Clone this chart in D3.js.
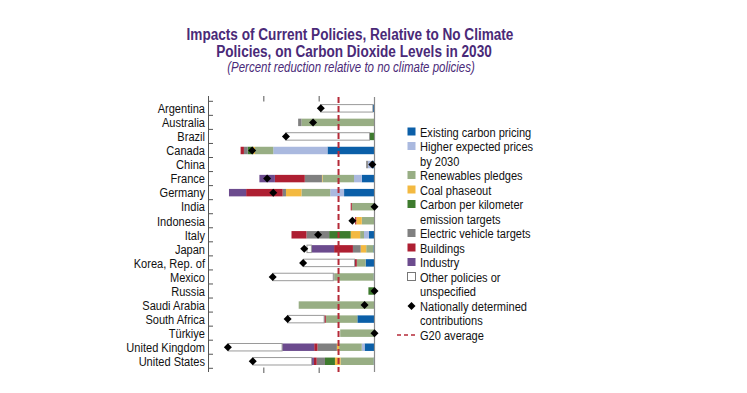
<!DOCTYPE html>
<html>
<head>
<meta charset="utf-8">
<script src="https://cdn.jsdelivr.net/npm/d3@7"></script>
<style>
  body { margin: 0; background: #fff; }
  svg { font-family: "Liberation Sans", Arial, sans-serif; }
</style>
</head>
<body>
<script>
// countries, top to bottom
var countries = ["Argentina", "Australia", "Brazil", "Canada", "China", "France", "Germany", "India",
  "Indonesia", "Italy", "Japan", "Korea, Rep. of", "Mexico", "Russia", "Saudi Arabia", "South Africa",
  "Türkiye", "United Kingdom", "United States"];

// percent reduction by policy, stacked from zero outward
var carbonPricing = [0.3, 0, 0, 8.5, 0.4, 2.3, 5.5, 0, 0, 1.0, 0.2, 1.6, 0.15, 0, 0, 3.1, 0, 1.8, 0.15];
var higherPrices  = [0, 0, 0, 9.8, 0.8, 1.4, 2.5, 0, 0, 0.9, 0, 0, 0, 0, 0, 0, 0, 0.5, 0];
var renewables    = [0, 13.2, 0, 3.3, 0, 5.7, 5.2, 4.1, 2.3, 0.7, 1.3, 1.6, 7.1, 0, 13.7, 5.7, 6.2, 4.1, 6.0];
var coal          = [0, 0, 0, 0.3, 0, 0.1, 2.8, 0, 1.0, 1.7, 1.0, 0, 0, 0, 0, 0, 0, 0.4, 1.0];
var carbonPerKm   = [0, 0, 0.9, 1.0, 0, 0, 0, 0, 0, 3.9, 0, 0, 0, 1.1, 0, 0, 0, 0, 1.8];
var evTargets     = [0, 0.6, 0, 0.7, 0.3, 3.1, 0.6, 0, 0, 4.1, 1.4, 0, 0.2, 0, 0, 0, 0, 3.5, 1.5];
var buildings     = [0, 0, 0, 0.6, 0, 5.4, 6.6, 0.2, 0.2, 2.7, 3.4, 0.4, 0, 0, 0, 0.3, 0, 0.6, 0.5];
var industry      = [0, 0, 0, 0, 0, 2.8, 3.1, 0, 0, 0, 4.1, 0, 0, 0, 0, 0, 0, 5.8, 0.4];
var other         = [9.4, 0, 15.1, 0, 0, 0, 0, 0, 0, 0, 0.8, 9.2, 10.9, 0, 0, 6.6, 0, 9.7, 10.6];
var ndc           = [9.7, 11.1, 16.0, 22.1, 0.4, 19.4, 18.3, 0, 4.0, 10.2, 12.7, 12.9, 18.4, 0, 1.8, 15.7, 0, 26.5, 22.0];
var g20Average = 6.5;

var xTicks = [-20, -10];

var series = [
  {key: "carbonPricing", values: carbonPricing, label: ["Existing carbon pricing"], color: "#0b5fa8"},
  {key: "higherPrices", values: higherPrices, label: ["Higher expected prices", "by 2030"], color: "#aab9df"},
  {key: "renewables", values: renewables, label: ["Renewables pledges"], color: "#98ae84"},
  {key: "coal", values: coal, label: ["Coal phaseout"], color: "#f3b941"},
  {key: "carbonPerKm", values: carbonPerKm, label: ["Carbon per kilometer", "emission targets"], color: "#3e7b2e"},
  {key: "evTargets", values: evTargets, label: ["Electric vehicle targets"], color: "#808080"},
  {key: "buildings", values: buildings, label: ["Buildings"], color: "#ae1f32"},
  {key: "industry", values: industry, label: ["Industry"], color: "#6c4b8e"},
  {key: "other", values: other, label: ["Other policies or", "unspecified"], color: "#ffffff"}
];

var rows = countries.map(function(c, i) {
  var r = {country: c, ndc: ndc[i]};
  series.forEach(function(s) { r[s.key] = s.values[i]; });
  return r;
});

var width = 747, height = 393;
var purple = "#4a2a78";
var narrow = 0.82; // squeeze Liberation Sans to look like a narrow face

var svg = d3.select("body").append("svg")
    .attr("width", width)
    .attr("height", height);

function addText(g, tx, ty, str, sx) {
  return g.append("text")
    .attr("transform", "translate(" + tx + "," + ty + ") scale(" + (sx || narrow) + ",1)")
    .text(str);
}

// title
var title = svg.append("g").attr("text-anchor", "middle").attr("fill", purple);
addText(title, 350, 40, "Impacts of Current Policies, Relative to No Climate", 0.8)
  .attr("font-size", 17).attr("font-weight", "bold");
addText(title, 354, 56.5, "Policies, on Carbon Dioxide Levels in 2030", 0.8)
  .attr("font-size", 17).attr("font-weight", "bold");
addText(title, 351, 72, "(Percent reduction relative to no climate policies)")
  .attr("font-size", 14).attr("font-style", "italic");

var x = d3.scaleLinear().domain([-30, 0]).range([208.5, 374.5]);
var y = d3.scaleBand().domain(countries).range([101.3, 368.3]).paddingInner(0.47).paddingOuter(0.235);

var stack = d3.stack().keys(series.map(function(s) { return s.key; }));
var stacked = stack(rows);

// bars
svg.append("g").selectAll("g")
  .data(stacked)
  .enter().append("g")
  .attr("fill", function(d, i) { return series[i].color; })
  .attr("stroke", function(d, i) { return series[i].key === "other" ? "#9a9a9a" : "none"; })
  .attr("stroke-width", 1)
  .selectAll("rect")
  .data(function(d) { return d; })
  .enter().append("rect")
  .filter(function(d) { return d[1] - d[0] > 0; })
  .attr("x", function(d) { return x(-d[1]); })
  .attr("width", function(d) { return x(-d[0]) - x(-d[1]); })
  .attr("y", function(d) { return y(d.data.country); })
  .attr("height", y.bandwidth());

// zero line
svg.append("line")
  .attr("x1", x(0)).attr("x2", x(0))
  .attr("y1", 97).attr("y2", 372)
  .attr("stroke", "#8a8a8a").attr("stroke-width", 1.2);

// G20 average
svg.append("line")
  .attr("x1", x(-g20Average)).attr("x2", x(-g20Average))
  .attr("y1", 97).attr("y2", 372)
  .attr("stroke", "#b52a38").attr("stroke-width", 2)
  .attr("stroke-dasharray", "6,3");

// NDC diamonds
svg.append("g").selectAll("path")
  .data(rows)
  .enter().append("path")
  .attr("d", d3.symbol().type(d3.symbolSquare).size(32))
  .attr("transform", function(d) {
    return "translate(" + x(-d.ndc) + "," + (y(d.country) + y.bandwidth() / 2) + ") rotate(45)";
  })
  .attr("fill", "#000");

// left axis with ticks between categories
var axis = svg.append("g").attr("stroke", "#555").attr("stroke-width", 1);
axis.append("line").attr("x1", 208.5).attr("x2", 208.5).attr("y1", 96).attr("y2", 372);
var bounds = d3.range(countries.length + 1).map(function(i) { return 101.3 + i * y.step(); });
axis.selectAll("line.tk").data(bounds).enter().append("line")
  .attr("class", "tk")
  .attr("x1", 208.5).attr("x2", 213)
  .attr("y1", function(d) { return d; }).attr("y2", function(d) { return d; });

// top and bottom x ticks
[[96, 101.5], [367.5, 373]].forEach(function(yy) {
  axis.selectAll(null).data(xTicks).enter().append("line")
    .attr("x1", function(d) { return x(d); }).attr("x2", function(d) { return x(d); })
    .attr("y1", yy[0]).attr("y2", yy[1]);
});

// country labels
var labels = svg.append("g").attr("text-anchor", "end").attr("font-size", 13.5).attr("fill", "#111");
countries.forEach(function(c) {
  addText(labels, 205, y(c) + y.bandwidth() / 2 + 4.8, c);
});

// legend
var legend = svg.append("g").attr("font-size", 13.5).attr("fill", "#111");
var ly = 132, lh = 14.5;
series.forEach(function(s) {
  legend.append("rect")
    .attr("x", 407.5).attr("y", ly - 4.5).attr("width", 8).attr("height", 8)
    .attr("fill", s.color)
    .attr("stroke", s.key === "other" ? "#777" : "none");
  s.label.forEach(function(t, j) {
    addText(legend, 420, ly + 4.8 + j * lh, t);
  });
  ly += lh * s.label.length;
});
legend.append("path")
  .attr("d", d3.symbol().type(d3.symbolSquare).size(32))
  .attr("transform", "translate(411.5," + ly + ") rotate(45)")
  .attr("fill", "#000");
["Nationally determined", "contributions"].forEach(function(t, j) {
  addText(legend, 420, ly + 4.8 + j * lh, t);
});
ly += lh * 2;
legend.append("line")
  .attr("x1", 397).attr("x2", 418).attr("y1", ly).attr("y2", ly)
  .attr("stroke", "#b52a38").attr("stroke-width", 1.6).attr("stroke-dasharray", "4,3");
addText(legend, 420, ly + 4.8, "G20 average");
</script>
</body>
</html>
